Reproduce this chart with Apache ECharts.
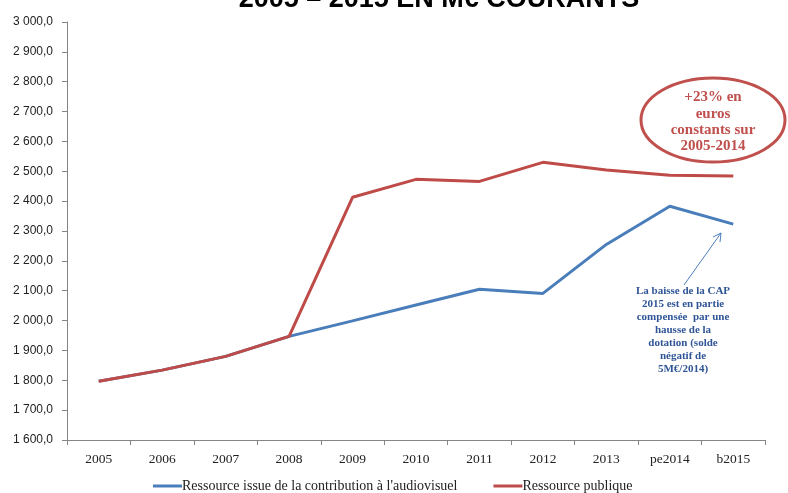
<!DOCTYPE html>
<html><head><meta charset="utf-8">
<script src="https://cdn.jsdelivr.net/npm/echarts@6/dist/echarts.min.js"></script>
<style>html,body{margin:0;padding:0;background:#fff}#c{width:788px;height:493px}</style>
</head><body><div id="c"></div>
<script>
const categories = ['2005','2006','2007','2008','2009','2010','2011','2012','2013','pe2014','b2015'];
const contributionValues = [1797, 1834, 1880, 1947, 1999, 2052, 2105, 2091, 2255, 2383, 2323];
const publiqueValues = [1797, 1834, 1880, 1947, 2413, 2473, 2466, 2530, 2504, 2487, 2484];
const seriesNames = ["Ressource issue de la contribution à l'audiovisuel", 'Ressource publique'];
const yMin = 1600, yMax = 3000, yStep = 100;
const titleText = '2005 – 2015 EN M€ COURANTS';
const ellipseLines = ['+23% en', 'euros', 'constants sur', '2005-2014'];
const noteLines = ['La baisse de la CAP', '2015 est en partie', 'compensée  par une', 'hausse de la', 'dotation (solde', 'négatif de', '5M€/2014)'];

function fmt(v){
  const s = Math.round(v).toString().replace(/\B(?=(\d{3})+(?!\d))/g, ' ');
  return s + ',0';
}
const chart = echarts.init(document.getElementById('c'), null, {renderer:'canvas'});
const axisCol = '#868686';
chart.setOption({
  animation:false,
  grid:{left:67, right:23, top:22, bottom:53},
  legend:{
    top:474, left:148, itemGap:36, itemWidth:29, itemHeight:3, icon:'rect',
    textStyle:{fontFamily:'Liberation Serif', fontSize:14, color:'#222', padding:[0,0,0,-5]},
    data:seriesNames
  },
  xAxis:{
    type:'category', data:categories, boundaryGap:true,
    axisLine:{lineStyle:{color:axisCol, width:1}},
    axisTick:{show:true, length:5, inside:false, lineStyle:{color:axisCol}},
    axisLabel:{fontFamily:'Liberation Serif', fontSize:13.5, color:'#222', margin:12}
  },
  yAxis:{
    type:'value', min:yMin, max:yMax, interval:yStep,
    splitLine:{show:false},
    axisLine:{show:true, lineStyle:{color:axisCol, width:1}},
    axisTick:{show:true, length:5, lineStyle:{color:axisCol}},
    axisLabel:{fontFamily:'Liberation Sans', fontSize:12, color:'#222', margin:14, formatter:fmt}
  },
  series:[
    {name:seriesNames[0], type:'line', data:contributionValues, symbol:'none',
     lineStyle:{color:'#4a7ebb', width:3}, itemStyle:{color:'#4a7ebb'}},
    {name:seriesNames[1], type:'line', data:publiqueValues, symbol:'none',
     lineStyle:{color:'#be4b48', width:3}, itemStyle:{color:'#be4b48'}}
  ],
  graphic:[
    {type:'text', x:439, y:-14, style:{text:titleText, font:'bold 27px "Liberation Sans"', fill:'#000', align:'center', verticalAlign:'top'}},
    {type:'ellipse', shape:{cx:713, cy:120, rx:72, ry:42}, style:{fill:'#fff', stroke:'#c0504d', lineWidth:3}},
    {type:'text', x:713, y:122, style:{text:ellipseLines.join('\n'), font:'bold 15px "Liberation Serif"', fill:'#c0504d', align:'center', verticalAlign:'middle', lineHeight:16.3}},
    {type:'line', shape:{x1:684, y1:285, x2:721, y2:233}, style:{stroke:'#4a7ebb', lineWidth:1}},
    {type:'polyline', shape:{points:[[713,237],[721,233],[720,242]]}, style:{stroke:'#4a7ebb', lineWidth:1, fill:null}},
    {type:'text', x:683, y:330, style:{text:noteLines.join('\n'), font:'bold 11px "Liberation Serif"', fill:'#2f5597', align:'center', verticalAlign:'middle', lineHeight:12.9}}
  ]
});
</script></body></html>
